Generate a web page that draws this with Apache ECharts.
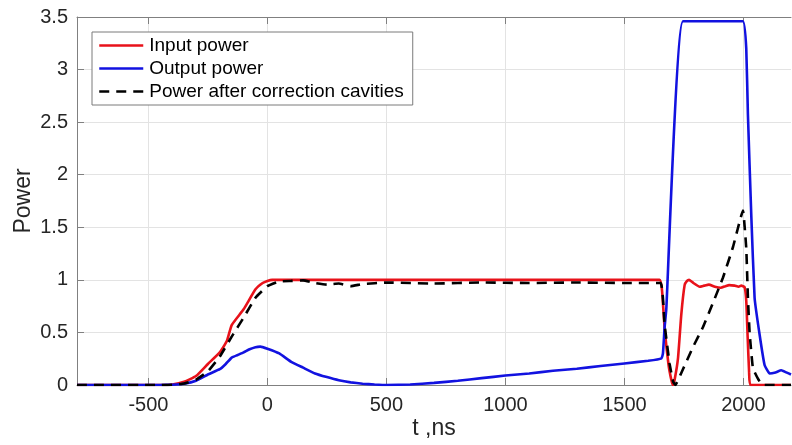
<!DOCTYPE html>
<html>
<head>
<meta charset="utf-8">
<script src="https://cdn.jsdelivr.net/npm/echarts@6/dist/echarts.min.js"></script>
<style>
html,body{margin:0;padding:0;background:#fff;}
#chart{width:792px;height:445px;}
</style>
</head>
<body>
<div id="chart"></div>
<script>
// ---- data ----
const xTicks = [-500, 0, 500, 1000, 1500, 2000];
const yTicks = [0, 0.5, 1, 1.5, 2, 2.5, 3, 3.5];

const tInput = [-800, -450, -400, -350, -300, -250, -200, -170, -150, -100, -50, -20, 0, 20,
  1648, 1658, 1669, 1685, 1697, 1704, 1711, 1725, 1739, 1753, 1763, 1772, 1790, 1816, 1835, 1855,
  1880, 1905, 1925, 1940, 1963, 1980, 1991, 2005, 2012, 2018, 2024, 2030, 2200];
const pInput = [0, 0, 0.005, 0.03, 0.085, 0.2, 0.31, 0.42, 0.57, 0.72, 0.91, 0.97, 0.99, 1.0,
  1.0, 0.9, 0.54, 0.2, 0.05, 0.0, 0.05, 0.25, 0.67, 0.95, 0.99, 1.0, 0.97, 0.935, 0.945, 0.955,
  0.935, 0.925, 0.94, 0.95, 0.945, 0.935, 0.945, 0.93, 0.8, 0.45, 0.12, 0.0, 0];

const tOutput = [-800, -450, -400, -350, -300, -250, -200, -175, -150, -125, -100, -75, -50, -30,
  0, 50, 100, 150, 200, 250, 300, 350, 400, 450, 500, 600, 700, 800, 900, 1000, 1100, 1200, 1300,
  1400, 1500, 1600, 1656, 1662, 1669, 1676, 1746, 1998, 2012, 2019, 2033, 2047, 2068, 2089, 2110,
  2135, 2159, 2180, 2200];
const pOutput = [0, 0, 0.003, 0.012, 0.04, 0.1, 0.15, 0.2, 0.26, 0.285, 0.31, 0.34, 0.36, 0.365,
  0.345, 0.3, 0.22, 0.165, 0.11, 0.075, 0.045, 0.025, 0.012, 0.005, 0.0, 0.005, 0.02, 0.04, 0.065,
  0.09, 0.11, 0.135, 0.155, 0.18, 0.205, 0.23, 0.254, 0.3, 0.55, 0.72, 3.46, 3.46, 3.2,
  2.57, 1.62, 0.83, 0.48, 0.19, 0.11, 0.12, 0.14, 0.12, 0.1];

const tCorr = [-800, -450, -400, -350, -300, -250, -200, -150, -100, -50, 0, 50, 100, 150, 200,
  250, 300, 350, 400, 500, 700, 900, 1100, 1300, 1500, 1652, 1669, 1690, 1705, 1714, 1746,
  1788, 1830, 1872, 1914, 1956, 1998, 2012, 2019, 2026, 2040, 2061, 2080, 2200];
const pCorr = [0, 0, 0.003, 0.015, 0.05, 0.13, 0.27, 0.46, 0.64, 0.83, 0.94, 0.985, 0.99, 0.995,
  0.97, 0.955, 0.965, 0.94, 0.96, 0.975, 0.965, 0.975, 0.97, 0.975, 0.97, 0.97, 0.57, 0.2,
  0.03, 0.0, 0.15, 0.36, 0.55, 0.78, 1.02, 1.31, 1.66, 1.3, 0.83, 0.5, 0.16, 0.06, 0.0, 0];

const seriesNames = ['Input power', 'Output power', 'Power after correction cavities'];

function pairs(t, p) { return t.map((v, i) => [v, p[i]]); }

const FONT = 'Liberation Sans, Arial, Helvetica, sans-serif';
const AXIS_COLOR = '#808080';
const GRID_COLOR = '#e3e3e3';
const TEXT_COLOR = '#262626';

const chart = echarts.init(document.getElementById('chart'), null, {renderer: 'canvas'});
chart.setOption({
  animation: false,
  backgroundColor: '#fff',
  textStyle: {fontFamily: FONT},
  grid: {left: 77, right: 1, top: 17, bottom: 60, containLabel: false, outerBoundsMode: 'none'},
  legend: {
    orient: 'vertical',
    left: 92, top: 32,
    padding: [4, 9, 4, 6],
    itemWidth: 44, itemHeight: 14, itemGap: 4,
    backgroundColor: '#fff',
    borderColor: '#7a7a7a', borderWidth: 1, borderRadius: 0,
    textStyle: {fontSize: 19, color: '#000', fontFamily: FONT, lineHeight: 19, padding: [0,0,0,1]},
    lineStyle: {width: 2.5},
    itemStyle: {opacity: 0},
    data: seriesNames
  },
  xAxis: [{
    type: 'value', min: -800, max: 2200,
    name: 't ,ns', nameLocation: 'middle', nameGap: 32, nameMoveOverlap: false,
    nameTextStyle: {fontSize: 23, color: TEXT_COLOR, fontFamily: FONT},
    axisLine: {show: true, onZero: false, lineStyle: {color: AXIS_COLOR, width: 1}},
    axisTick: {show: true, inside: true, length: 7, lineStyle: {color: AXIS_COLOR}, customValues: xTicks},
    axisLabel: {fontSize: 20, color: TEXT_COLOR, margin: 10, fontFamily: FONT, customValues: xTicks,
      formatter: v => String(v)},
    splitLine: {show: true, lineStyle: {color: GRID_COLOR, width: 1}}
  }, {
    type: 'value', min: -800, max: 2200, position: 'top',
    axisLine: {show: true, onZero: false, lineStyle: {color: AXIS_COLOR, width: 1}},
    axisTick: {show: true, inside: true, length: 7, lineStyle: {color: AXIS_COLOR}, customValues: xTicks},
    axisLabel: {show: false, customValues: xTicks},
    splitLine: {show: false}
  }],
  yAxis: {
    type: 'value', min: 0, max: 3.5, interval: 0.5,
    name: 'Power', nameLocation: 'middle', nameGap: 42, nameMoveOverlap: false,
    nameTextStyle: {fontSize: 23, color: TEXT_COLOR, fontFamily: FONT},
    axisLine: {show: true, onZero: false, lineStyle: {color: AXIS_COLOR, width: 1}},
    axisTick: {show: true, inside: true, length: 7, lineStyle: {color: AXIS_COLOR}},
    axisLabel: {fontSize: 20, color: TEXT_COLOR, margin: 9, fontFamily: FONT},
    splitLine: {show: true, lineStyle: {color: GRID_COLOR, width: 1}}
  },
  series: [{
    name: seriesNames[0], type: 'line', data: pairs(tInput, pInput),
    showSymbol: false, symbol: 'none', smooth: 0.15, clip: true,
    lineStyle: {color: '#e8121a', width: 2.6}, itemStyle: {color: '#e8121a'}, z: 2
  }, {
    name: seriesNames[1], type: 'line', data: pairs(tOutput, pOutput),
    showSymbol: false, symbol: 'none', smooth: 0.1, clip: true,
    lineStyle: {color: '#1212e0', width: 2.6}, itemStyle: {color: '#1212e0'}, z: 3
  }, {
    name: seriesNames[2], type: 'line', data: pairs(tCorr, pCorr),
    showSymbol: false, symbol: 'none', smooth: 0.1, clip: true,
    lineStyle: {color: '#000', width: 2.6, type: [10, 7]}, itemStyle: {color: '#000'}, z: 4
  }]
});
</script>
</body>
</html>
